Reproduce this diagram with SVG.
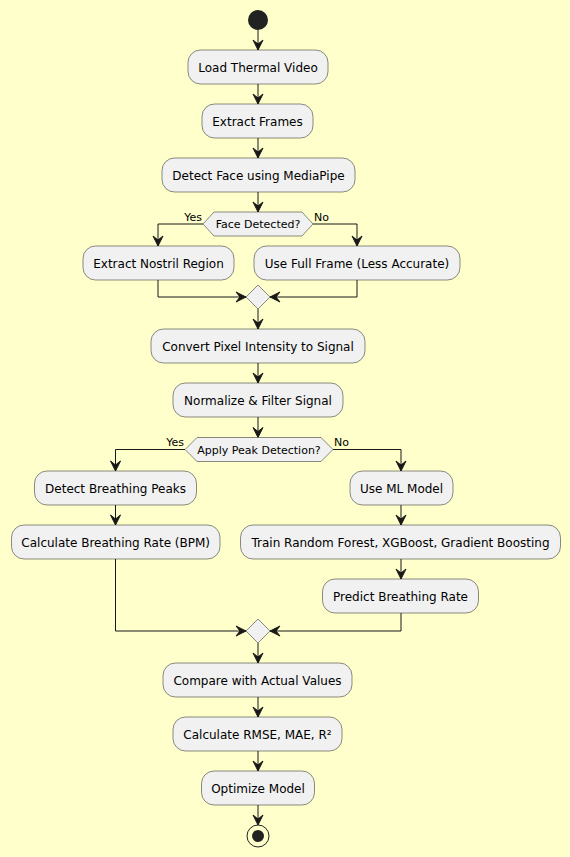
<svg xmlns="http://www.w3.org/2000/svg" width="570" height="857" viewBox="0 0 570 857">
<defs>
<style>
.bg{fill:#FFFFCC}
.box{fill:#F1F1F1;stroke:#181818;stroke-width:0.5}
.t{font-family:"DejaVu Sans",sans-serif;font-size:12px;fill:#000000;text-anchor:middle}
.ht{font-family:"DejaVu Sans",sans-serif;font-size:11px;fill:#000000;text-anchor:middle}
.lbl{font-family:"DejaVu Sans",sans-serif;font-size:11px;fill:#000000}
.c{fill:none;stroke:#181818;stroke-width:1;marker-end:url(#ah)}
</style>
<marker id="ah" markerUnits="userSpaceOnUse" markerWidth="12" markerHeight="11" refX="10" refY="5" orient="auto" overflow="visible">
<path d="M0,0 L10,5 L0,10 L4,5 Z" fill="#181818" stroke="#181818" stroke-width="1"/>
</marker>
</defs>
<rect class="bg" x="0" y="0" width="570" height="857"/>

<g id="connectors">
<path class="c" d="M258,30 L258,50"/>
<path class="c" d="M258,84 L258,104"/>
<path class="c" d="M258,138 L258,158"/>
<path class="c" d="M258,192 L258,212"/>
<path class="c" d="M203,224 L158,224 L158,246"/>
<path class="c" d="M313,224 L357,224 L357,246"/>
<path class="c" d="M158,280 L158,297 L246,297"/>
<path class="c" d="M357,280 L357,297 L270,297"/>
<path class="c" d="M258,309 L258,329"/>
<path class="c" d="M258,363 L258,383"/>
<path class="c" d="M258,417 L258,437.5"/>
<path class="c" d="M185,449.5 L115.5,449.5 L115.5,471"/>
<path class="c" d="M333,449.5 L401,449.5 L401,471"/>
<path class="c" d="M115.5,505 L115.5,525"/>
<path class="c" d="M401,505 L401,525"/>
<path class="c" d="M401,559 L401,579"/>
<path class="c" d="M115.5,559 L115.5,631 L246,631"/>
<path class="c" d="M401,613 L401,631 L270,631"/>
<path class="c" d="M258,643 L258,663"/>
<path class="c" d="M258,697 L258,717"/>
<path class="c" d="M258,751 L258,771"/>
<path class="c" d="M258,805 L258,825"/>
</g>

<g id="start"><circle cx="258" cy="20" r="10" fill="#222222"/></g>

<g id="n1"><rect class="box" x="188" y="50" width="140" height="34" rx="12.5"/><text class="t" x="258" y="71.5">Load Thermal Video</text></g>
<g id="n2"><rect class="box" x="202" y="104" width="111" height="34" rx="12.5"/><text class="t" x="257.5" y="125.5">Extract Frames</text></g>
<g id="n3"><rect class="box" x="162" y="158" width="193" height="34" rx="12.5"/><text class="t" x="258.5" y="179.5">Detect Face using MediaPipe</text></g>

<g id="d1"><polygon class="box" points="203,224 214,212 302,212 313,224 302,236 214,236"/><text class="ht" x="258" y="228">Face Detected?</text>
<text class="lbl" x="202" y="220.5" text-anchor="end">Yes</text><text class="lbl" x="314" y="220.5">No</text></g>

<g id="n4"><rect class="box" x="83" y="246" width="151" height="34" rx="12.5"/><text class="t" x="158.5" y="267.5">Extract Nostril Region</text></g>
<g id="n5"><rect class="box" x="254" y="246" width="206" height="34" rx="12.5"/><text class="t" x="357" y="267.5">Use Full Frame (Less Accurate)</text></g>

<g id="m1"><polygon class="box" points="258,285 270,297 258,309 246,297"/></g>

<g id="n6"><rect class="box" x="151" y="329" width="214" height="34" rx="12.5"/><text class="t" x="258" y="350.5">Convert Pixel Intensity to Signal</text></g>
<g id="n7"><rect class="box" x="173" y="383" width="170" height="34" rx="12.5"/><text class="t" x="258" y="404.5">Normalize &amp; Filter Signal</text></g>

<g id="d2"><polygon class="box" points="185,449.5 197,437.5 321,437.5 333,449.5 321,461.5 197,461.5"/><text class="ht" x="259" y="453.5">Apply Peak Detection?</text>
<text class="lbl" x="184" y="446" text-anchor="end">Yes</text><text class="lbl" x="334" y="446">No</text></g>

<g id="n8"><rect class="box" x="34.5" y="471" width="162" height="34" rx="12.5"/><text class="t" x="115.5" y="492.5">Detect Breathing Peaks</text></g>
<g id="n9"><rect class="box" x="11.5" y="525" width="208.5" height="34" rx="12.5"/><text class="t" x="115.7" y="546.5">Calculate Breathing Rate (BPM)</text></g>
<g id="n10"><rect class="box" x="350" y="471" width="103" height="34" rx="12.5"/><text class="t" x="401.5" y="492.5">Use ML Model</text></g>
<g id="n11"><rect class="box" x="240.5" y="525" width="320" height="34" rx="12.5"/><text class="t" x="400.5" y="546.5">Train Random Forest, XGBoost, Gradient Boosting</text></g>
<g id="n12"><rect class="box" x="322.5" y="579" width="156" height="34" rx="12.5"/><text class="t" x="400.5" y="600.5">Predict Breathing Rate</text></g>

<g id="m2"><polygon class="box" points="258,619 270,631 258,643 246,631"/></g>

<g id="n13"><rect class="box" x="163" y="663" width="189" height="34" rx="12.5"/><text class="t" x="257.5" y="684.5">Compare with Actual Values</text></g>
<g id="n14"><rect class="box" x="173" y="717" width="169" height="34" rx="12.5"/><text class="t" x="257.5" y="738.5">Calculate RMSE, MAE, R²</text></g>
<g id="n15"><rect class="box" x="201.5" y="771" width="113" height="34" rx="12.5"/><text class="t" x="258" y="792.5">Optimize Model</text></g>

<g id="end"><circle cx="258" cy="836" r="11" fill="none" stroke="#222222" stroke-width="1"/><circle cx="258" cy="836" r="6" fill="#222222"/></g>
</svg>
